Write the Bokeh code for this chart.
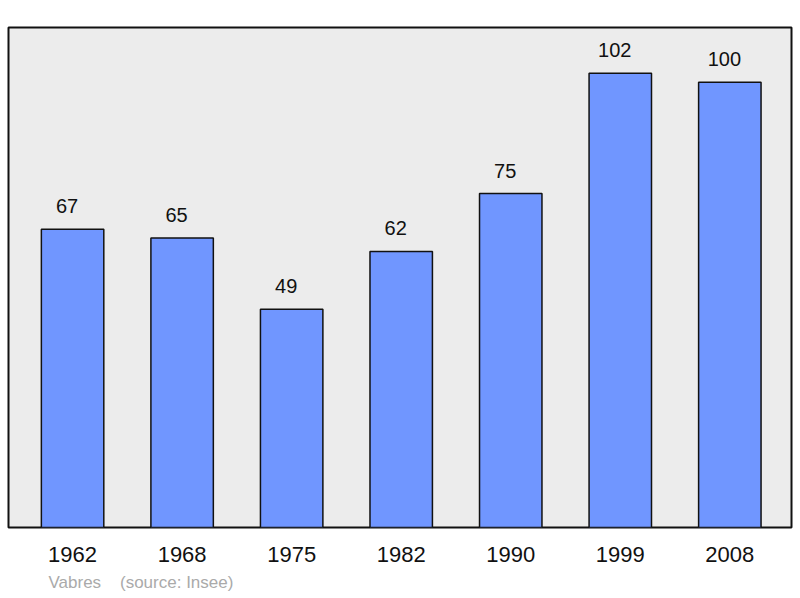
from bokeh.plotting import figure
from bokeh.models import FixedTicker, ColumnDataSource, Range1d, Title
from bokeh.core.properties import value
from bokeh.embed import file_html
from bokeh.resources import INLINE

years = ["1962", "1968", "1975", "1982", "1990", "1999", "2008"]
population = [67, 65, 49, 62, 75, 102, 100]
place = "Vabres"
source_note = "(source: Insee)"

FONT = "Liberation Sans"
idx = list(range(len(years)))
src = ColumnDataSource(dict(x=idx, top=population, label=[str(v) for v in population]))

p = figure(width=800, height=598, output_backend="svg", toolbar_location=None,
           x_range=Range1d(-0.585, 6.563), y_range=Range1d(0, 112.3),
           min_border_left=8, min_border_right=9, min_border_top=27, min_border_bottom=70)
p.background_fill_color = "#ececec"
p.border_fill_color = "white"
p.outline_line_color = "#111111"
p.outline_line_width = 2
p.grid.visible = False
p.yaxis.visible = False

p.vbar(x="x", top="top", width=0.57, bottom=0, source=src,
       fill_color="#7096ff", line_color="#111111", line_width=1.5)
p.text(x="x", y="top", text="label", source=src, x_offset=-5.5, y_offset=-23,
       text_align="center", text_baseline="alphabetic",
       text_font=value(FONT), text_font_size="20px", text_color="#111111")

ax = p.xaxis[0]
ax.ticker = FixedTicker(ticks=idx)
ax.major_label_overrides = {i: y for i, y in zip(idx, years)}
ax.axis_line_color = None
ax.major_tick_line_color = None
ax.minor_tick_line_color = None
ax.major_tick_out = 0
ax.major_tick_in = 0
ax.major_label_standoff = 19
ax.major_label_text_font = FONT
ax.major_label_text_font_size = "22px"
ax.major_label_text_color = "#111111"

note = Title(text=place + "\u00a0\u00a0\u00a0\u00a0" + source_note, align="left", offset=40,
             text_font=FONT, text_font_size="17px", text_font_style="normal",
             text_color="#aaaaaa", standoff=13)
p.add_layout(note, "below")

open("out.html", "w").write(file_html(p, INLINE))
